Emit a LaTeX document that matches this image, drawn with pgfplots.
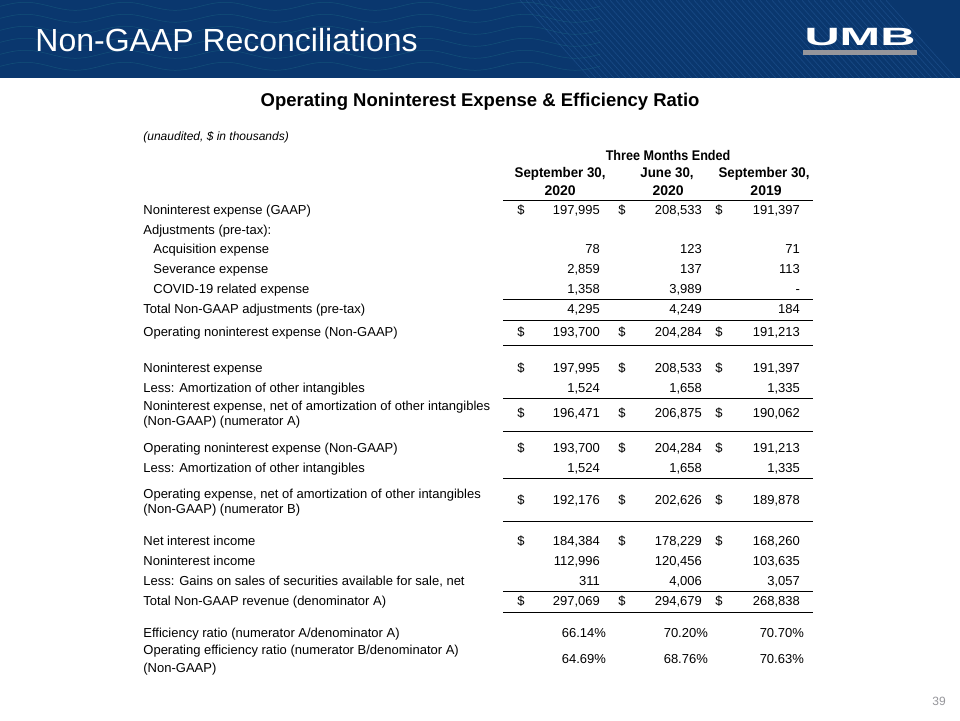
\documentclass[border=0pt]{standalone}
\usepackage{fontspec}
\setmainfont{Liberation Sans}
\usepackage{pgfplots}
\usepackage{pgfplotstable}
\pgfplotsset{compat=1.18}

\definecolor{umbnavy}{RGB}{10,55,110}
\definecolor{umbstripe}{RGB}{52,112,180}
\definecolor{umbwave}{RGB}{40,140,150}
\definecolor{umbgray}{RGB}{150,150,155}

% font size in px (1 px = 1 bp here)
\newcommand{\px}[1]{\fontsize{#1bp}{1.2\dimexpr#1bp\relax}\selectfont}

% amounts, $ in thousands: row position (px from top) and the three quarters
\pgfplotstableread{
y   c1       c2       c3
210 197,995  208,533  191,397
249 78       123      71
269 2,859    137      113
289 1,358    3,989    -
309 4,295    4,249    184
332 193,700  204,284  191,213
368 197,995  208,533  191,397
388 1,524    1,658    1,335
413 196,471  206,875  190,062
448 193,700  204,284  191,213
468 1,524    1,658    1,335
500 192,176  202,626  189,878
541 184,384  178,229  168,260
561 112,996  120,456  103,635
581 311      4,006    3,057
601 297,069  294,679  268,838
}\amounts

\pgfplotstableread{
y   p1     p2     p3
633 66.14  70.20  70.70
659 64.69  68.76  70.63
}\ratios

% rows that carry a dollar sign
\pgfplotstableread{
y
210
332
368
413
448
500
541
601
}\dollars

\begin{document}
\begin{tikzpicture}
\begin{axis}[
  width=960bp, height=720bp, scale only axis,
  xmin=0, xmax=960, ymin=0, ymax=720, y dir=reverse,
  hide axis, clip=false,
  every node near coord/.append style={inner sep=0pt, font=\px{13}, text=black,
    text height=9.5bp, text depth=0bp},
]
% page and header band
\fill[white] (axis cs:0,0) rectangle (axis cs:960,720);
\fill[umbnavy] (axis cs:0,0) rectangle (axis cs:960,78);
\pgfplotsinvokeforeach{520,526,...,886}{
  \draw[umbstripe, opacity=0.35, line width=0.6bp] (axis cs:#1,0) -- ++(70bp,-78bp);
}
\pgfplotsinvokeforeach{6,18,30,42,54,66}{
  \draw[umbwave, opacity=0.3, line width=0.5bp] (axis cs:0,#1)
    \foreach \k in {1,...,6}{ sin ++(25bp,4bp) cos ++(25bp,-4bp) sin ++(25bp,-4bp) cos ++(25bp,4bp)};
}
\node[anchor=west, text=white, font=\px{32}, inner sep=0pt] at (axis cs:35,40) {Non-GAAP Reconciliations};
\node[text=white, font=\bfseries\px{25}, inner sep=0pt, xscale=1.95] at (axis cs:860,37) {UMB};
\fill[umbgray] (axis cs:803,50) rectangle (axis cs:917,54.5);

% titles
\node[font=\bfseries\px{18.5}, inner sep=0pt] at (axis cs:480,101) {Operating Noninterest Expense \& Efficiency Ratio};
\node[anchor=west, font=\itshape\px{12}, inner sep=0pt] at (axis cs:143,137) {(unaudited, \$ in thousands)};

% column heads
\begin{scope}[every node/.style={font=\bfseries\px{14}, inner sep=0pt, text height=10bp, text depth=0bp}]
\node[xscale=0.9] at (axis cs:668,155) {Three Months Ended};
\node[xscale=0.95] at (axis cs:560,172) {September 30,};
\node[xscale=0.95] at (axis cs:667,172) {June 30,};
\node[xscale=0.95] at (axis cs:764,172) {September 30,};
\node at (axis cs:560,190) {2020};
\node at (axis cs:668,190) {2020};
\node at (axis cs:766,190) {2019};
\end{scope}

% row labels
\begin{scope}[every node/.style={anchor=west, font=\px{13}, inner sep=0pt, text height=9.5bp, text depth=0bp}]
\node at (axis cs:143,210) {Noninterest expense (GAAP)};
\node at (axis cs:143,230) {Adjustments (pre-tax):};
\node at (axis cs:153,249) {Acquisition expense};
\node at (axis cs:153,269) {Severance expense};
\node at (axis cs:153,289) {COVID-19 related expense};
\node at (axis cs:143,309) {Total Non-GAAP adjustments (pre-tax)};
\node at (axis cs:143,332) {Operating noninterest expense (Non-GAAP)};
\node at (axis cs:143,368) {Noninterest expense};
\node at (axis cs:143,388) {Less: Amortization of other intangibles};
\node at (axis cs:143,406) {Noninterest expense, net of amortization of other intangibles};
\node at (axis cs:143,421) {(Non-GAAP) (numerator A)};
\node at (axis cs:143,448) {Operating noninterest expense (Non-GAAP)};
\node at (axis cs:143,468) {Less: Amortization of other intangibles};
\node at (axis cs:143,494) {Operating expense, net of amortization of other intangibles};
\node at (axis cs:143,509) {(Non-GAAP) (numerator B)};
\node at (axis cs:143,541) {Net interest income};
\node at (axis cs:143,561) {Noninterest income};
\node at (axis cs:143,581) {Less: Gains on sales of securities available for sale, net};
\node at (axis cs:143,601) {Total Non-GAAP revenue (denominator A)};
\node at (axis cs:143,633) {Efficiency ratio (numerator A/denominator A)};
\node at (axis cs:143,650) {Operating efficiency ratio (numerator B/denominator A)};
\node at (axis cs:143,668) {(Non-GAAP)};
\end{scope}

% rules
\pgfplotsinvokeforeach{200,299,320,345,398,431,478,521,591,612}{
  \draw[black, line width=0.8bp] (axis cs:503,#1) -- (axis cs:813,#1);
}

% amounts
\addplot[only marks, mark=none, point meta=explicit symbolic, nodes near coords,
  nodes near coords align={center}, every node near coord/.append style={anchor=east}]
  table[x expr=600, y=y, meta=c1] {\amounts};
\addplot[only marks, mark=none, point meta=explicit symbolic, nodes near coords,
  nodes near coords align={center}, every node near coord/.append style={anchor=east}]
  table[x expr=702, y=y, meta=c2] {\amounts};
\addplot[only marks, mark=none, point meta=explicit symbolic, nodes near coords,
  nodes near coords align={center}, every node near coord/.append style={anchor=east}]
  table[x expr=800, y=y, meta=c3] {\amounts};

% ratios
\addplot[only marks, mark=none, point meta=explicit symbolic, nodes near coords={\pgfplotspointmeta\%},
  nodes near coords align={center}, every node near coord/.append style={anchor=east}]
  table[x expr=606, y=y, meta=p1] {\ratios};
\addplot[only marks, mark=none, point meta=explicit symbolic, nodes near coords={\pgfplotspointmeta\%},
  nodes near coords align={center}, every node near coord/.append style={anchor=east}]
  table[x expr=708, y=y, meta=p2] {\ratios};
\addplot[only marks, mark=none, point meta=explicit symbolic, nodes near coords={\pgfplotspointmeta\%},
  nodes near coords align={center}, every node near coord/.append style={anchor=east}]
  table[x expr=804, y=y, meta=p3] {\ratios};

% dollar signs
\addplot[only marks, mark=none, nodes near coords={\$}, nodes near coords align={center},
  every node near coord/.append style={anchor=west}] table[x expr=517, y=y] {\dollars};
\addplot[only marks, mark=none, nodes near coords={\$}, nodes near coords align={center},
  every node near coord/.append style={anchor=west}] table[x expr=618, y=y] {\dollars};
\addplot[only marks, mark=none, nodes near coords={\$}, nodes near coords align={center},
  every node near coord/.append style={anchor=west}] table[x expr=715, y=y] {\dollars};

\node[text=umbgray, font=\px{12}, inner sep=0pt] at (axis cs:939,701) {39};
\end{axis}
\end{tikzpicture}
\end{document}
